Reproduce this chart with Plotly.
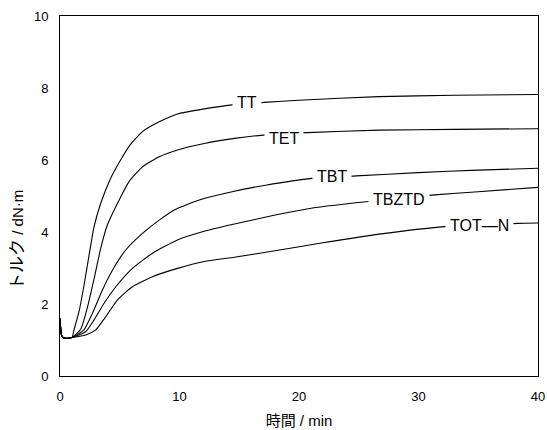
import plotly.graph_objects as go

# Common induction portion (time in min, torque in dN·m)
base_x = [0.0, 0.05, 0.12, 0.25, 0.5, 1.0]
base_y = [1.6, 1.35, 1.15, 1.07, 1.05, 1.07]

tt_x = [1.17, 1.6, 2.0, 2.43, 2.85, 3.41, 4.25, 4.95, 5.78, 6.9, 8.3, 9.83, 12.07, 14.4, 17.1, 20.0, 26.7, 33.0, 40.0]
tt_y = [1.28, 1.80, 2.50, 3.35, 4.15, 4.80, 5.50, 5.93, 6.38, 6.79, 7.06, 7.28, 7.42, 7.53, 7.60, 7.66, 7.76, 7.80, 7.82]

tet_x = [1.73, 2.29, 2.85, 3.41, 3.97, 4.95, 5.78, 6.9, 8.3, 9.83, 12.07, 14.6, 17.0, 20.7, 26.7, 33.0, 40.0]
tet_y = [1.30, 1.90, 2.70, 3.55, 4.20, 4.89, 5.40, 5.81, 6.09, 6.28, 6.46, 6.60, 6.69, 6.76, 6.83, 6.85, 6.87]

tbt_x = [2.0, 2.71, 3.55, 4.39, 5.5, 6.9, 8.3, 9.6, 11.65, 14.4, 17.2, 21.1, 24.8, 30.0, 35.0, 40.0]
tbt_y = [1.28, 1.74, 2.39, 2.94, 3.50, 3.96, 4.33, 4.62, 4.89, 5.12, 5.30, 5.49, 5.56, 5.65, 5.72, 5.77]

tbztd_x = [2.15, 2.85, 3.69, 4.67, 6.06, 7.74, 9.83, 12.07, 14.6, 18.0, 21.4, 25.6, 31.35, 35.0, 40.0]
tbztd_y = [1.23, 1.56, 2.02, 2.48, 2.99, 3.41, 3.78, 4.02, 4.22, 4.47, 4.68, 4.84, 5.03, 5.12, 5.24]

totn_x = [2.15, 2.99, 3.83, 4.8, 6.06, 7.74, 9.83, 12.07, 14.6, 18.0, 22.0, 26.7, 32.2, 38.3, 40.0]
totn_y = [1.14, 1.28, 1.65, 2.11, 2.48, 2.76, 2.99, 3.18, 3.30, 3.48, 3.70, 3.94, 4.15, 4.24, 4.25]

series_names = ["TT", "TET", "TBT", "TBZTD", "TOT\u2014N"]
label_x = [15.63, 18.78, 22.76, 28.4, 35.1]
label_y = [7.59, 6.60, 5.54, 4.89, 4.19]

x_ticks = [0, 10, 20, 30, 40]
y_ticks = [0, 2, 4, 6, 8, 10]

x_title = "時間 / min"
y_title = "<span style='font-size:17px'>トルク</span> / dN·m"

font_fam = "Liberation Sans, Arial, Noto Sans CJK JP, sans-serif"

fig = go.Figure()
all_series = [(tt_x, tt_y), (tet_x, tet_y), (tbt_x, tbt_y), (tbztd_x, tbztd_y), (totn_x, totn_y)]
for name, (sx, sy) in zip(series_names, all_series):
    fig.add_trace(go.Scatter(
        x=base_x + sx, y=base_y + sy, mode="lines", name=name,
        line=dict(color="black", width=1.1, shape="spline", smoothing=0.5),
        showlegend=False, hoverinfo="skip"))

for name, lx, ly in zip(series_names, label_x, label_y):
    fig.add_annotation(x=lx, y=ly, text=name, showarrow=False,
                       font=dict(family=font_fam, size=16, color="black"),
                       bgcolor="white", borderpad=4)

# y-axis title as a rotated annotation (sits below the plot's vertical centre in the reference)
fig.add_annotation(xref="paper", yref="paper", x=0, y=0.378, xshift=-42,
                   xanchor="center", yanchor="middle", textangle=-90,
                   text=y_title, showarrow=False,
                   font=dict(family=font_fam, size=15, color="black"))

fig.update_layout(
    width=547, height=430,
    margin=dict(l=60, r=9, t=16, b=54),
    paper_bgcolor="white", plot_bgcolor="white",
    font=dict(family=font_fam, size=13, color="black"),
)
fig.update_xaxes(range=[0, 40], tickvals=x_ticks, showgrid=False, zeroline=False,
                 showline=True, linecolor="black", linewidth=1, mirror=True,
                 ticks="", ticklabelstandoff=8, automargin=False,
                 tickfont=dict(size=13),
                 title=dict(text=x_title, standoff=12, font=dict(size=15)))
fig.update_yaxes(range=[0, 10], tickvals=y_ticks, showgrid=False, zeroline=False,
                 showline=True, linecolor="black", linewidth=1, mirror=True,
                 ticks="", ticklabelstandoff=8, automargin=False,
                 tickfont=dict(size=13))

fig.write_html("out.html", config={"displayModeBar": False},
               post_script="document.body.style.margin='0';document.body.style.overflow='hidden';")
